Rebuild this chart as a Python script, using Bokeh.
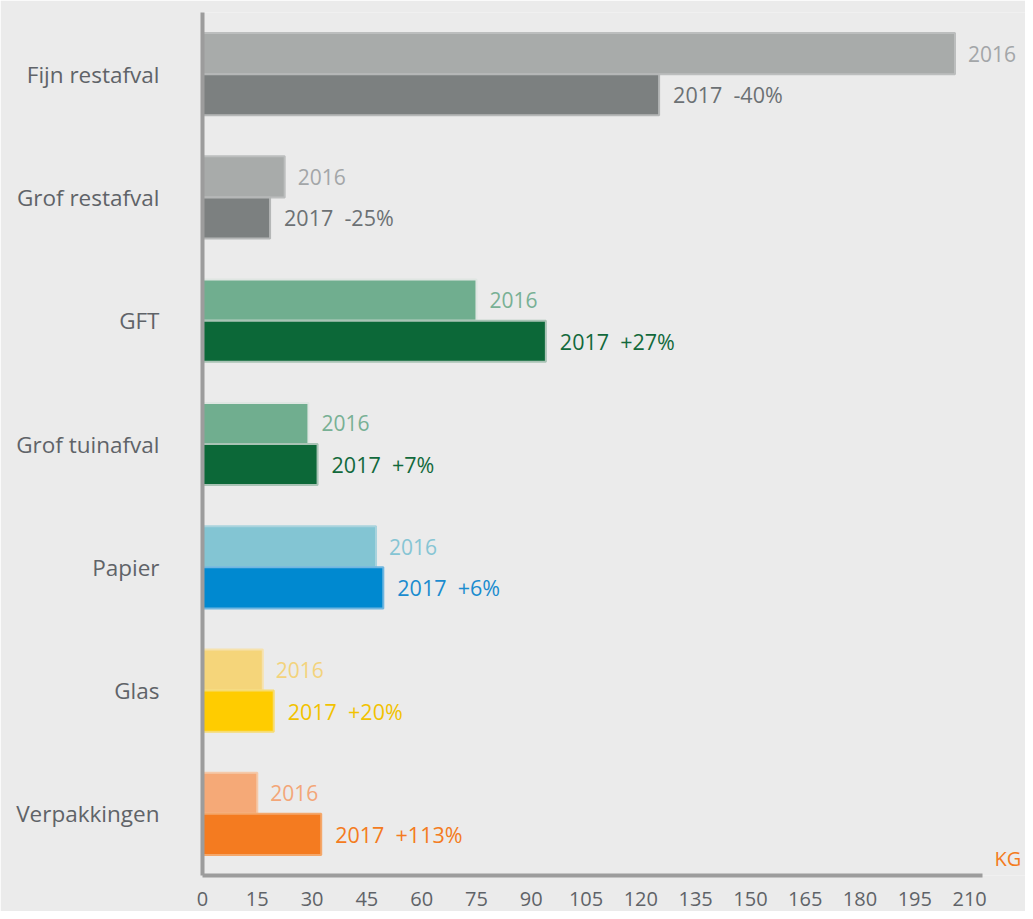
from bokeh.plotting import figure
from bokeh.models import ColumnDataSource, FactorRange, Range1d, FixedTicker, Label, LabelSet
from bokeh.transform import dodge
from bokeh.core.properties import value
from bokeh.embed import file_html
from bokeh.resources import INLINE

# ---- data ----
categories = ["Fijn restafval", "Grof restafval", "GFT", "Grof tuinafval",
              "Papier", "Glas", "Verpakkingen"]
kg_2016 = [206.0, 22.5, 75.0, 29.0, 47.5, 16.5, 15.0]
kg_2017 = [125.0, 18.5, 94.0, 31.5, 49.5, 19.5, 32.5]
change_labels = ["-40%", "-25%", "+27%", "+7%", "+6%", "+20%", "+113%"]
x_ticks = list(range(0, 211, 15))
axis_end = 213.5
unit_label = "KG"

# ---- styles ----
col_2016 = ["#a8abaa", "#a8abaa", "#70ae8f", "#70ae8f", "#83c5d3", "#f5d57a", "#f5a977"]
col_2017 = ["#7c8080", "#7c8080", "#0c6838", "#0c6838", "#0089d0", "#ffcc00", "#f47b20"]
edge_2016 = ["#bcbebe", "#bcbebe", "#dfe6e2", "#dfe6e2", "#a9d3dd", "#f6e2ad", "#f5c9a9"]
edge_2017 = ["#b5b7b7", "#b5b7b7", "#a9c3b5", "#a9c3b5", "#6fb6e0", "#f7dc70", "#f4a76a"]
txt_2016 = ["#a3a6a8", "#a3a6a8", "#78b095", "#78b095", "#86c5d4", "#f3d37c", "#f3a678"]
txt_2017 = ["#6c7174", "#6c7174", "#12693c", "#12693c", "#1a8ccf", "#f2c200", "#f47b20"]

BG = "#ebebeb"
FONT = "Open Sans"

src = ColumnDataSource(dict(
    cat=categories,
    v16=kg_2016,
    v17=kg_2017,
    lab16=["2016"] * len(categories),
    lab17=["2017\u00a0\u00a0" + c for c in change_labels],
    c16=col_2016, c17=col_2017,
    e16=edge_2016, e17=edge_2017,
    t16=txt_2016, t17=txt_2017,
))

p = figure(
    width=1025, height=911,
    y_range=FactorRange(*reversed(categories)),
    x_range=Range1d(0, 225.3),
    output_backend="svg", toolbar_location=None,
    min_border_left=202, min_border_right=0,
    min_border_top=12, min_border_bottom=36,
    background_fill_color=BG, border_fill_color=BG,
)
p.outline_line_color = None
p.grid.visible = False

p.hbar(y=dodge("cat", 1 / 6, range=p.y_range), left=0, right="v16", height=1 / 3,
       fill_color="c16", line_color="e16", line_width=2, source=src)
p.hbar(y=dodge("cat", -1 / 6, range=p.y_range), left=0, right="v17", height=1 / 3,
       fill_color="c17", line_color="e17", line_width=2, source=src)

p.add_layout(LabelSet(x="v16", y=dodge("cat", 1 / 6, range=p.y_range), text="lab16",
                      source=src, x_offset=13, text_baseline="middle", text_align="left",
                      text_font=value(FONT), text_font_size="21px", text_color="t16"))
p.add_layout(LabelSet(x="v17", y=dodge("cat", -1 / 6, range=p.y_range), text="lab17",
                      source=src, x_offset=14, text_baseline="middle", text_align="left",
                      text_font=value(FONT), text_font_size="21.5px", text_color="t17"))

# axes
for ax in (p.xaxis[0], p.yaxis[0]):
    ax.axis_line_color = "#9c9c9c"
    ax.axis_line_width = 4
    ax.major_tick_line_color = None
    ax.minor_tick_line_color = None
    ax.major_label_text_font = FONT
    ax.major_label_text_color = "#5f6368"

p.xaxis.bounds = (0, axis_end)
p.xaxis.ticker = FixedTicker(ticks=x_ticks)
p.xaxis.major_label_text_font_size = "20px"
p.xaxis.major_label_standoff = 10
p.yaxis.major_label_text_font_size = "22.5px"
p.yaxis.major_label_standoff = 37

p.add_layout(Label(x=axis_end, y=0, x_offset=12, y_offset=4, text=unit_label,
                   text_color="#f47b20", text_font=FONT, text_font_size="20px",
                   text_baseline="bottom"))

open("out.html", "w").write(file_html(p, INLINE))
